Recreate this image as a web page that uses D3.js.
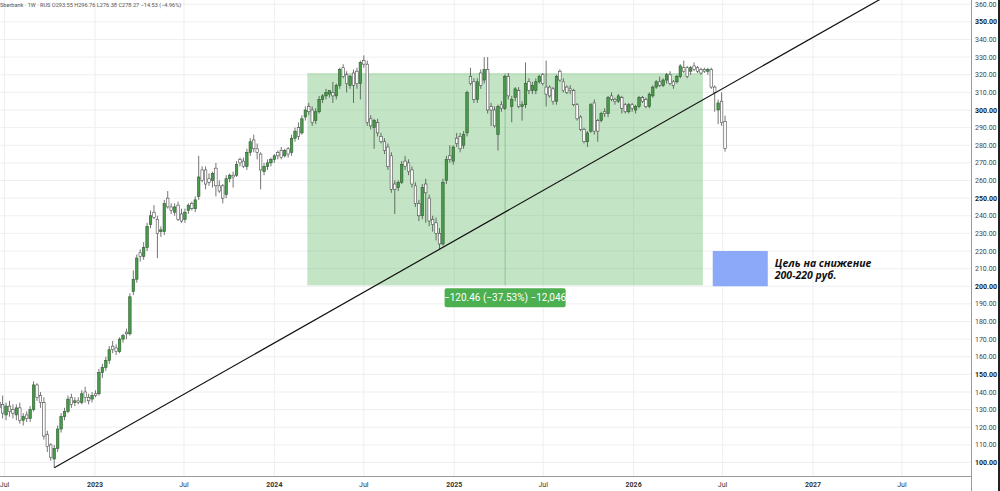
<!DOCTYPE html>
<html>
<head>
<meta charset="utf-8">
<script src="https://cdn.jsdelivr.net/npm/d3@7"></script>
<style>
  body { margin: 0; background: #fff; }
  svg { display: block; font-family: Roboto, "Open Sans", sans-serif; }
</style>
</head>
<body>
<div id="chart"></div>
<script>
// weekly candles, first one is the week of 2022-06-20
let firstWeek = "2022-06-20";

let opens = [134,133,127,132,130,127,131,124,127,125, 130,144,138,134,116,110,102,108,119,126,
  129,137,134,135,134,140,137,136,139,139, 151,154,158,166,165,163,170,174,173,197,
  204,219,217,222,235,242,238,231,231,250, 245,242,246,241,238,243,247,244,251,266,
  266,261,260,267,257,257,252,261,263,263, 272,271,268,276,283,278,275,265,268,270,
  272,276,277,274,278,276,284,290,287,296, 302,300,294,299,306,308,309,310,308,314,
  324,320,314,321,322,315,328,326,295,290, 293,285,282,279,274,258,256,259,271,270,
  266,257,247,240,258,250,238,236,230,224, 260,274,271,284,285,280,287,319,316,306,
  321,317,323,302,300,286,303,301,319,302, 307,311,302,303,316,311,311,316,320,313,
  313,312,305,322,316,313,312,311,303,296, 289,282,288,304,294,294,299,298,308,306,
  305,307,303,299,303,300,302,307,306,302, 308,313,316,314,317,320,316,316,319,324,
  324,322,325,324,323,323,322,323,313,300, 305,293.55];

let highs = [140,138,134,135,133,133,134,128,129,132, 146,145,140,137,118,111,110,121,128,131,
  138,139,137,137,141,143,139,140,141,153, 156,160,166,169,167,171,173,176,196,209,
  218,221,225,236,243,246,240,234,249,254, 247,247,248,244,244,247,248,251,274,268,
  268,264,265,270,260,258,263,264,265,271, 273,273,278,284,286,281,276,270,272,273,
  275,277,279,278,279,286,290,293,297,302, 304,302,301,308,309,312,311,316,315,324,
  326,322,320,323,324,328,331,328,297,295, 295,287,284,281,276,260,260,271,274,272,
  268,259,249,258,261,252,240,239,233,261, 274,280,280,287,287,288,311,324,318,318,
  323,330,330,304,302,303,305,320,321,308, 313,313,305,327,318,316,318,320,321,328,
  314,313,320,323,318,314,314,312,304,297, 290,288,304,306,295,299,301,308,310,307,
  309,308,304,304,304,303,308,308,307,310, 314,317,319,318,321,322,317,320,326,328,
  325,325,327,325,324,324,324,324,314,306, 310,296.76];

let lows = [126,125,124,126,125,124,122,121,123,123, 129,135,131,113,106,101,97,106,117,124,
  128,131,132,133,133,134,133,134,137,138, 148,152,156,162,161,162,168,170,172,195,
  202,214,215,220,233,238,216,228,229,244, 241,240,237,236,236,241,243,242,249,259,
  255,257,256,251,253,247,250,259,256,262, 268,267,266,274,276,272,255,263,266,268,
  270,272,272,273,273,274,282,283,286,294, 297,291,292,298,304,306,307,304,306,312,
  318,310,312,304,312,306,324,291,289,278, 285,281,275,266,253,241,254,258,266,263,
  256,245,237,238,236,234,231,226,221,223, 258,270,269,279,276,278,285,314,304,304,
  312,315,298,291,290,277,299,300,306,293, 305,301,294,301,309,309,309,315,314,302,
  307,303,303,316,310,309,309,302,294,288, 281,279,287,286,282,293,296,296,305,303,
  304,298,298,298,299,298,301,304,301,301, 307,312,313,313,315,314,312,315,318,321,
  318,320,322,321,320,321,320,312,299,292, 291,276.38];

let closes = [131,128,132,129,128,131,124,126,125,130, 144,137,134,115,109,103,108,119,126,129,
  136,133,135,134,139,137,135,138,138,151, 154,158,164,164,163,170,172,173,194,204,
  216,217,222,234,240,239,230,232,247,245, 243,245,238,237,242,246,244,249,262,260,
  258,259,264,257,254,250,261,263,262,269, 270,268,276,282,278,276,266,268,270,272,
  274,274,273,277,275,284,288,285,295,300, 299,293,299,306,308,310,311,308,314,323,
  319,315,319,314,315,327,326,293,291,294, 287,282,277,268,255,255,259,269,268,265,
  258,247,240,256,253,237,235,230,224,259, 272,272,279,281,278,286,310,315,306,316,
  314,323,300,300,291,302,301,319,308,306, 312,302,303,315,311,314,316,319,315,309,
  308,305,319,317,311,310,311,303,295,289, 282,287,303,288,288,298,298,307,306,305,
  308,301,299,303,301,302,307,305,302,309, 313,316,314,317,320,315,314,319,325,322,
  319,324,323,322,321,322,323,313,310,304, 292.8,278.27];

let priceTicks = [100,110,120,130,140,150,160,170,180,190,200,210,220,230,240,250,260,270,280,290,300,310,320,330,340,350,360];
let boldPrices = [100,150,200,250,300,350];
let timeTicks = ["2022-07-01","2023-01-01","2023-07-01","2024-01-01","2024-07-01","2025-01-01","2025-07-01","2026-01-01","2026-07-01","2027-01-01","2027-07-01"];
let timeLabels = ["Jul","2023","Jul","2024","Jul","2025","Jul","2026","Jul","2027","Jul"];

// price range tool box
let rangeStart = "2024-03-08", rangeEnd = "2026-05-22";
let rangeTop = 320.97, rangeBottom = 200.51;
let rangeLabel = "\u2212120.46 (\u221237.53%) \u221212,046";

// target zone
let targetStart = "2026-06-11", targetEnd = "2026-10-01";
let targetTop = 220, targetBottom = 200;
let targetText = ["Цель на снижение", "200-220 руб."];

// trend line through two lows (week index, price)
let trendA = [16, 97], trendB = [128, 221];

let header = "Sberbank \u00b7 1W \u00b7 RUS O293.55 H296.76 L276.38 C278.27 \u221214.53 (\u22124.96%)";

let width = 1000, height = 491;
let plotRight = 971, plotBottom = 476;

let svg = d3.select("#chart")
  .append("svg")
  .attr("width", width)
  .attr("height", height);

let x = d3.scaleUtc()
  .domain([new Date("2023-01-01"), new Date("2027-01-01")])
  .range([95, 813]);

let y = d3.scaleLinear()
  .domain([100, 360])
  .range([462.5, 4.25]);

let parse = d3.utcParse("%Y-%m-%d");
let start = parse(firstWeek);
let candles = opens.map(function(o, i){
  return {date: d3.utcDay.offset(start, i * 7), o: o, h: highs[i], l: lows[i], c: closes[i]};
});

let defs = svg.append("defs");
defs.append("clipPath").attr("id", "plot")
  .append("rect").attr("x", 0).attr("y", 0).attr("width", plotRight).attr("height", plotBottom);

// grid
svg.append("g")
  .selectAll("line")
  .data(priceTicks)
  .enter()
  .append("line")
  .attr("x1", 0).attr("x2", plotRight)
  .attr("y1", d => y(d)).attr("y2", d => y(d))
  .attr("stroke", "#eeeff2");

svg.append("g")
  .selectAll("line")
  .data(timeTicks)
  .enter()
  .append("line")
  .attr("x1", d => x(parse(d))).attr("x2", d => x(parse(d)))
  .attr("y1", 0).attr("y2", plotBottom)
  .attr("stroke", "#eeeff2");

let plot = svg.append("g").attr("clip-path", "url(#plot)");

// green range rectangle
let rx0 = x(parse(rangeStart)), rx1 = x(parse(rangeEnd));
plot.append("rect")
  .attr("x", rx0).attr("y", y(rangeTop))
  .attr("width", rx1 - rx0).attr("height", y(rangeBottom) - y(rangeTop))
  .attr("fill", "#4caf50").attr("fill-opacity", 0.33);

plot.append("line")
  .attr("x1", (rx0 + rx1) / 2).attr("x2", (rx0 + rx1) / 2)
  .attr("y1", y(rangeTop)).attr("y2", y(rangeBottom))
  .attr("stroke", "#8cc68e").attr("stroke-width", 1);

// blue target
let tx0 = x(parse(targetStart)), tx1 = x(parse(targetEnd));
plot.append("rect")
  .attr("x", tx0).attr("y", y(targetTop))
  .attr("width", tx1 - tx0).attr("height", y(targetBottom) - y(targetTop))
  .attr("fill", "#8ca8f8");

// candles
let bw = 2.5;
let cg = plot.append("g");
cg.selectAll("line")
  .data(candles)
  .enter()
  .append("line")
  .attr("x1", d => x(d.date)).attr("x2", d => x(d.date))
  .attr("y1", d => y(d.h)).attr("y2", d => y(d.l))
  .attr("stroke", "#3a3a3a").attr("stroke-width", 0.7);

cg.selectAll("rect")
  .data(candles)
  .enter()
  .append("rect")
  .attr("x", d => x(d.date) - bw / 2)
  .attr("y", d => y(Math.max(d.o, d.c)))
  .attr("width", bw)
  .attr("height", d => Math.max(0.8, Math.abs(y(d.o) - y(d.c))))
  .attr("fill", d => d.c >= d.o ? "#4a9a4d" : "#ffffff")
  .attr("stroke", d => d.c >= d.o ? "#2b5e2d" : "#4a4a4a")
  .attr("stroke-width", 0.6);

// trend line, extended to the right
let ta = candles[trendA[0]].date, tb = candles[trendB[0]].date;
let ax = x(ta), ay = y(trendA[1]), bx = x(tb), by = y(trendB[1]);
let slope = (by - ay) / (bx - ax);
plot.append("line")
  .attr("x1", ax).attr("y1", ay)
  .attr("x2", 1000).attr("y2", ay + slope * (1000 - ax))
  .attr("stroke", "#111").attr("stroke-width", 1.2);

// range label
let lx = (rx0 + rx1) / 2, ly = y(rangeBottom) + 3;
svg.append("rect")
  .attr("x", lx - 60.5).attr("y", ly)
  .attr("width", 121).attr("height", 19)
  .attr("rx", 2)
  .attr("fill", "#4caf50");
svg.append("text")
  .attr("x", lx).attr("y", ly + 13)
  .attr("text-anchor", "middle")
  .attr("fill", "#fff")
  .style("font-size", "10px")
  .text(rangeLabel);

// target text
svg.append("g")
  .selectAll("text")
  .data(targetText)
  .enter()
  .append("text")
  .attr("x", tx1 + 7)
  .attr("y", (d, i) => y(targetTop) + 16 + i * 12)
  .style("font-family", "'Open Sans', sans-serif")
  .style("font-size", "10.5px")
  .style("font-weight", "bold")
  .style("font-style", "italic")
  .attr("fill", "#111")
  .text(d => d);

// axes
svg.append("line")
  .attr("x1", plotRight + 0.5).attr("x2", plotRight + 0.5)
  .attr("y1", 0).attr("y2", height)
  .attr("stroke", "#9a9a9a");
svg.append("line")
  .attr("x1", 0).attr("x2", plotRight)
  .attr("y1", plotBottom + 0.5).attr("y2", plotBottom + 0.5)
  .attr("stroke", "#9a9a9a");
svg.append("line")
  .attr("x1", 999).attr("x2", 999)
  .attr("y1", 0).attr("y2", height)
  .attr("stroke", "#222").attr("stroke-width", 2);

svg.append("g")
  .selectAll("text")
  .data(priceTicks)
  .enter()
  .append("text")
  .attr("x", 975)
  .attr("y", d => y(d) + 2.5)
  .style("font-size", "7px")
  .style("font-weight", d => boldPrices.includes(d) ? "bold" : "normal")
  .attr("fill", d => boldPrices.includes(d) ? "#222" : "#444")
  .text(d => d.toFixed(2));

svg.append("g")
  .selectAll("text")
  .data(timeTicks)
  .enter()
  .append("text")
  .attr("x", d => x(parse(d)))
  .attr("y", 486.5)
  .attr("text-anchor", "middle")
  .style("font-size", "7px")
  .style("font-weight", (d, i) => timeLabels[i] == "Jul" ? "normal" : "bold")
  .attr("fill", "#333")
  .text((d, i) => timeLabels[i]);

// header
svg.append("text")
  .attr("x", 0).attr("y", 7)
  .style("font-size", "5.6px")
  .attr("fill", "#555")
  .text(header);
</script>
</body>
</html>
